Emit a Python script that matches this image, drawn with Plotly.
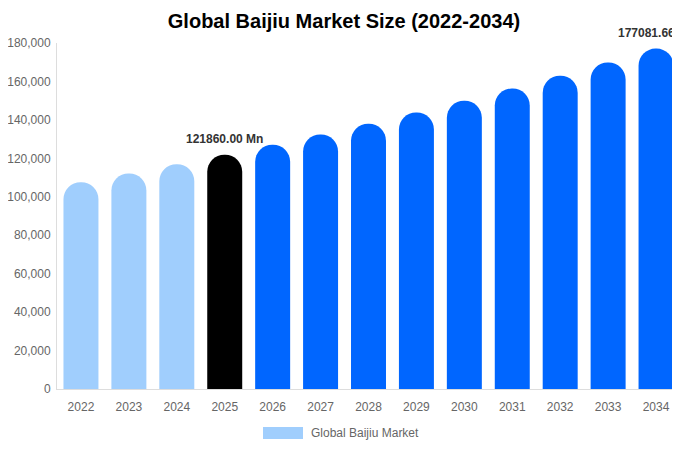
import plotly.graph_objects as go

# Данные
years = ['2022', '2023', '2024', '2025', '2026', '2027', '2028',
         '2029', '2030', '2031', '2032', '2033', '2034']
market_size = [107580, 112140, 116900, 121860.00, 127030, 132420, 138030,
               143880, 149980, 156340, 162970, 169880, 177081.66]
bar_colors = ['#a0cefd'] * 3 + ['#000000'] + ['#0066ff'] * 9
# Подписи над столбцами (только 2025 и 2034)
labeled_years = ['2025', '2034']

fig = go.Figure()

fig.add_trace(go.Bar(
    x=years,
    y=market_size,
    name='Global Baijiu Market',
    marker=dict(color=bar_colors, cornerradius='50%', line=dict(width=0)),
    showlegend=False,
    hoverinfo='x+y'
))

annotations = []
for yr in labeled_years:
    i = years.index(yr)  # на категориальной оси x задаётся индексом
    annotations.append(dict(
        x=i, y=market_size[i], xref='x', yref='y',
        text=f'<b>{market_size[i]:.2f} Mn</b>',
        showarrow=False, xanchor='center', yanchor='bottom', yshift=7,
        font=dict(size=12, color='#333333')
    ))

# Легенда вручную (широкий образец цвета)
annotations.append(dict(
    text='Global Baijiu Market', xref='paper', yref='paper',
    x=(309 - 57) / 623, y=-(433 - 389) / 346,
    xanchor='left', yanchor='middle', showarrow=False,
    font=dict(size=12, color='#666666')
))

# страница имеет отступ 8px, поэтому фигура чуть меньше окна
fig.update_layout(
    width=672,
    height=442,
    title=dict(
        text='<b>Global Baijiu Market Size (2022-2034)</b>',
        x=0.5, xanchor='center', y=1 - 13 / 442, yanchor='middle',
        font=dict(size=20, color='#000000')
    ),
    font=dict(family='Liberation Sans', size=12, color='#666666'),
    plot_bgcolor='white',
    paper_bgcolor='white',
    margin=dict(l=49, r=0, t=35, b=61, autoexpand=False),
    bargap=0.27,
    xaxis=dict(
        type='category',
        range=[-0.5, len(years) - 0.5],  # иначе подписи расширяют ось
        showline=True, linecolor='#dddddd', linewidth=1,
        showgrid=False, ticks='', tickfont=dict(size=12, color='#666666'),
        ticklabelstandoff=7
    ),
    yaxis=dict(
        range=[0, 180000], tickvals=[0, 20000, 40000, 60000, 80000, 100000,
                                     120000, 140000, 160000, 180000],
        tickformat=',', showline=True, linecolor='#dddddd', linewidth=1,
        showgrid=False, zeroline=False, ticks='',
        tickfont=dict(size=12, color='#666666'), ticklabelstandoff=3
    ),
    shapes=[dict(
        type='rect', xref='paper', yref='paper',
        x0=(263 - 57) / 623, x1=(303 - 57) / 623,
        y0=-(439 - 389) / 346, y1=-(427 - 389) / 346,
        fillcolor='#a0cefd', line=dict(width=0)
    )],
    annotations=annotations
)

fig.write_html("out.html")
